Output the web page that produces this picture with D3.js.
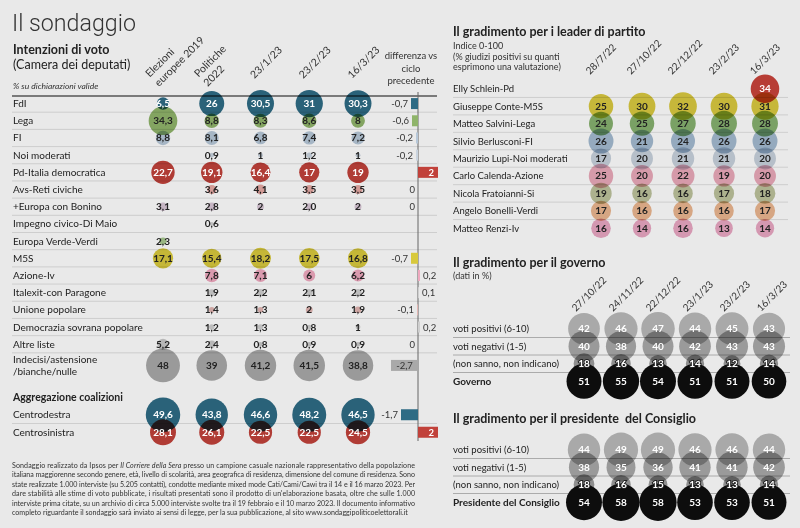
<!DOCTYPE html>
<html><head><meta charset="utf-8">
<script src="https://cdn.jsdelivr.net/npm/d3@7"></script>
<style>
html,body{margin:0;padding:0;background:#e9e9e9;}
svg{display:block;font-family:Lato,"Open Sans",sans-serif;}
.blend{mix-blend-mode:multiply;}
</style></head><body>
<svg id="c" width="800" height="528"></svg>
<script>
// ---------- DATA ----------
const parties = ["FdI","Lega","FI","Noi moderati","Pd-Italia democratica","Avs-Reti civiche","+Europa con Bonino","Impegno civico-Di Maio","Europa Verde-Verdi","M5S","Azione-Iv","Italexit-con Paragone","Unione popolare","Democrazia sovrana popolare","Altre liste","Indecisi/astensione\n/bianche/nulle"];
const partyColors = ["#2e6b84","#8fb46a","#b6c7d8","#c9d3de","#c1413a","#e6aaa4","#d8c6d6","#d0d0d0","#a9c98f","#d8c93c","#efa9bf","#cfcfcf","#e2b6b2","#cfcfcf","#c9c9c9","#a9a9a9"];
const partyTextWhite = [true,false,false,false,true,false,false,false,false,false,false,false,false,false,false,false];
const voteDates = ["Elezioni\neuropee 2019","Politiche\n2022","23/1/23","23/2/23","16/3/23"];
const votesEur2019 = [6.5,34.3,8.8,null,22.7,null,3.1,null,2.3,17.1,null,null,null,null,5.2,48];
const votesPol2022 = [26,8.8,8.1,0.9,19.1,3.6,2.8,0.6,null,15.4,7.8,1.9,1.4,1.2,2.4,39];
const votesJan23   = [30.5,8.3,6.8,1,16.4,4.1,2,null,null,18.2,7.1,2.2,1.3,1.3,0.8,41.2];
const votesFeb23   = [31,8.6,7.4,1.2,17,3.5,"2,0",null,null,17.5,6,2.1,2,0.8,0.9,41.5];
const votesMar23   = [30.3,8,7.2,1,19,3.5,2,null,null,16.8,6.2,2.2,1.9,1,0.9,38.8];
const diffPrev     = [-0.7,-0.6,-0.2,-0.2,2,0,0,null,null,-0.7,0.2,0.1,-0.1,0.2,0,-2.7];

const coalitions = ["Centrodestra","Centrosinistra"];
const coalColors = ["#2e6b84","#c1413a"];
const coalEur2019 = [49.6,28.1];
const coalPol2022 = [43.8,26.1];
const coalJan23   = [46.6,22.5];
const coalFeb23   = [48.2,22.5];
const coalMar23   = [46.5,24.5];
const coalDiff    = [-1.7,2];

const leaders = ["Elly Schlein-Pd","Giuseppe Conte-M5S","Matteo Salvini-Lega","Silvio Berlusconi-FI","Maurizio Lupi-Noi moderati","Carlo Calenda-Azione","Nicola Fratoianni-Si","Angelo Bonelli-Verdi","Matteo Renzi-Iv"];
const leaderColors = ["#c8433a","#d9c83f","#86b06e","#a3bad0","#c7d1dc","#eaa9b9","#bcc29c","#ebb68f","#e8a6c2"];
const leaderDates = ["28/7/22","27/10/22","22/12/22","23/2/23","16/3/23"];
const leader28Jul22 = [null,25,24,26,17,25,19,17,16];
const leader27Oct22 = [null,30,25,21,20,20,16,16,14];
const leader22Dec22 = [null,32,27,24,21,22,16,16,16];
const leader23Feb23 = [null,30,28,26,21,19,17,16,13];
const leader16Mar23 = [34,31,28,26,20,20,18,17,14];

const govDates = ["27/10/22","24/11/22","22/12/22","23/1/23","23/2/23","16/3/23"];
const govRows = ["voti positivi (6-10)","voti negativi (1-5)","(non sanno, non indicano)","Governo"];
const govPositive = [42,46,47,44,45,43];
const govNegative = [40,38,40,42,43,43];
const govUnknown  = [18,16,13,14,12,14];
const govIndex    = [51,55,54,51,51,50];
const pmRows = ["voti positivi (6-10)","voti negativi (1-5)","(non sanno, non indicano)","Presidente del Consiglio"];
const pmPositive = [44,49,49,46,46,44];
const pmNegative = [38,35,36,41,41,42];
const pmUnknown  = [18,16,15,13,13,14];
const pmIndex    = [54,58,58,53,53,51];

const footnote = [
 ["Sondaggio realizzato da Ipsos per ", "Il Corriere della Sera", " presso un campione casuale nazionale rappresentativo della popolazione"],
 ["italiana maggiorenne secondo genere, età, livello di scolarità, area geografica di residenza, dimensione del comune di residenza. Sono"],
 ["state realizzate 1.000 interviste (su 5.205 contatti), condotte mediante mixed mode Cati/Cami/Cawi tra il 14 e il 16 marzo 2023. Per"],
 ["dare stabilità alle stime di voto pubblicate, i risultati presentati sono il prodotto di un'elaborazione basata, oltre che sulle 1.000"],
 ["interviste prima citate, su un archivio di circa 5.000 interviste svolte tra il 19 febbraio e il 10 marzo 2023. Il documento informativo"],
 ["completo riguardante il sondaggio sarà inviato ai sensi di legge, per la sua pubblicazione, al sito www.sondaggipoliticoelettorali.it"]
];

// ---------- HELPERS ----------
const num = v => typeof v === "string" ? +v.replace(",", ".") : v;
const lab = v => typeof v === "string" ? v : String(Math.round(v*10)/10).replace(".", ",");
const svg = d3.select("#c");
const r = d3.scaleSqrt().domain([0,50]).range([0,17.3]);
const INK = "#222";

svg.append("rect").attr("width",800).attr("height",528).attr("fill","#e9e9e9");

// ---------- TITLES ----------
svg.append("text").attr("x",12).attr("y",31).attr("font-family","Roboto").attr("font-weight",300)
  .attr("font-size",23).attr("fill","#333").attr("textLength",124).attr("lengthAdjust","spacingAndGlyphs").text("Il sondaggio");
svg.append("text").attr("x",13).attr("y",54).attr("font-weight",700).attr("font-size",12.5).attr("fill",INK).text("Intenzioni di voto");
svg.append("text").attr("x",13).attr("y",69).attr("font-size",12.5).attr("fill",INK).text("(Camera dei deputati)");
svg.append("text").attr("x",13).attr("y",89).attr("font-size",8.5).attr("font-style","italic").attr("fill","#333").text("% su dichiarazioni valide");

["differenza vs","ciclo","precedente"].forEach((t,i)=>{
  svg.append("text").attr("x",411).attr("y",59+i*12.5).attr("text-anchor","middle").attr("font-size",9.5).attr("fill","#333").text(t);
});

// ---------- LEFT TABLE ----------
const xVote = d3.scalePoint().domain(voteDates).range([163,358]);
const yParty = d3.scaleBand().domain(parties).range([95,370]);
const rowH = yParty.bandwidth();
const cyP = p => yParty(p) + rowH/2 + (p.includes("\n") ? 4 : 0);
const xDiff = d3.scaleLinear().domain([-3,3]).range([388,448]);

// rotated header labels (start-aligned, lines stacked perpendicular)
function rotHeader(g, label, px, py, fs){
  const lines = label.split("\n");
  const grp = g.append("g").attr("transform",`translate(${px},${py}) rotate(-45)`);
  lines.forEach((l,i)=> grp.append("text").attr("font-size",fs).attr("fill","#333")
      .attr("x",0).attr("y",(i-(lines.length-1))*13).text(l));
}
voteDates.forEach(d=>{
  const two = d.includes("\n");
  rotHeader(svg,d,xVote(d)-(two?4:6),two?87:79,10.5);
});

// separators
const sep = svg.append("g");
parties.slice(0,15).forEach(p=>{
  sep.append("line").attr("x1",12).attr("x2",437).attr("y1",yParty(p)+rowH).attr("y2",yParty(p)+rowH)
    .attr("stroke","#c6c6c6").attr("stroke-width",0.8);
});
svg.append("line").attr("x1",12).attr("x2",437).attr("y1",96).attr("y2",96).attr("stroke","#555").attr("stroke-width",1.3);

// row labels
parties.forEach(p=>{
  const lines = p.split("\n");
  lines.forEach((l,i)=>{
    svg.append("text").attr("x",13).attr("y",cyP(p)+3.5+(i-(lines.length-1)/2)*12).attr("font-size",10)
      .attr("fill",INK).text(l);
  });
});

const voteSeries = [votesEur2019,votesPol2022,votesJan23,votesFeb23,votesMar23];
const cells = [];
parties.forEach((p,i)=>voteDates.forEach((d,j)=>{
  const v = voteSeries[j][i];
  if(v!==null) cells.push({x:xVote(d), y:cyP(p), v, c:partyColors[i], w:partyTextWhite[i]});
}));

// coalitions
const yCoal = d3.scaleBand().domain(coalitions).range([406,441]);
const cyC = c => yCoal(c)+yCoal.bandwidth()/2;
const coalSeries = [coalEur2019,coalPol2022,coalJan23,coalFeb23,coalMar23];
coalitions.forEach((c,i)=>voteDates.forEach((d,j)=>{
  cells.push({x:xVote(d), y:cyC(c), v:coalSeries[j][i], c:coalColors[i], w:true});
}));
svg.append("text").attr("x",13).attr("y",401).attr("font-weight",700).attr("font-size",10.5).attr("fill",INK).text("Aggregazione coalizioni");
coalitions.forEach(c=>svg.append("text").attr("x",13).attr("y",cyC(c)+3.5).attr("font-size",10).attr("fill",INK).text(c));
svg.append("line").attr("x1",12).attr("x2",437).attr("y1",yCoal("Centrosinistra")).attr("y2",yCoal("Centrosinistra"))
  .attr("stroke","#c6c6c6").attr("stroke-width",0.8);

const cg = svg.append("g");
cg.selectAll("circle").data(cells).join("circle").attr("class","blend")
  .attr("cx",d=>d.x).attr("cy",d=>d.y).attr("r",d=>r(num(d.v))).attr("fill",d=>d.c);
svg.append("g").selectAll("text").data(cells).join("text")
  .attr("x",d=>d.x).attr("y",d=>d.y+3.5).attr("text-anchor","middle").attr("font-size",10).attr("font-weight",700)
  .attr("fill",d=>d.w?"#fff":INK).text(d=>lab(d.v));

// diff column
svg.append("line").attr("x1",xDiff(0)).attr("x2",xDiff(0)).attr("y1",92).attr("y2",441).attr("stroke","#666").attr("stroke-width",1);
const diffs = [];
parties.forEach((p,i)=>{ if(diffPrev[i]!==null) diffs.push({v:diffPrev[i], y:cyP(p), c:partyColors[i], w:partyTextWhite[i]}); });
coalitions.forEach((c,i)=>diffs.push({v:coalDiff[i], y:cyC(c), c:coalColors[i], w:true}));
diffs.forEach(d=>{
  const x0 = xDiff(Math.min(0,d.v)), x1 = xDiff(Math.max(0,d.v));
  const w = x1-x0;
  if(w>0) svg.append("rect").attr("x",x0).attr("y",d.y-5.5).attr("width",w).attr("height",11).attr("fill",d.c);
  const t = svg.append("text").attr("y",d.y+3.5).attr("font-size",9.5).text(lab(d.v));
  if(w>=20){
    t.attr("x",d.v<0?(x0+x1)/2:x1-4).attr("text-anchor",d.v<0?"middle":"end").attr("fill",d.w?"#fff":"#333").attr("font-weight",d.w?700:400);
  } else if(d.v>0){
    t.attr("x",x1+3).attr("text-anchor","start").attr("fill","#333");
  } else {
    t.attr("x",x0-3).attr("text-anchor","end").attr("fill","#333");
  }
});

// ---------- LEADERS ----------
const RX = 453;
svg.append("text").attr("x",RX).attr("y",36).attr("font-weight",700).attr("font-size",12.5).attr("fill",INK).text("Il gradimento per i leader di partito");
["Indice 0-100","(% giudizi positivi su quanti","esprimono una valutazione)"].forEach((t,i)=>
  svg.append("text").attr("x",RX).attr("y",49+i*10.5).attr("font-size",9).attr("fill","#333").text(t));
const xLead = d3.scalePoint().domain(leaderDates).range([601,765]);
const yLead = d3.scaleBand().domain(leaders).range([80,237]);
const cyL = l => yLead(l)+yLead.bandwidth()/2;
leaderDates.forEach(d=>rotHeader(svg,d,xLead(d)-11,75,10));
leaders.slice(0,8).forEach(l=>svg.append("line").attr("x1",RX).attr("x2",788).attr("y1",yLead(l)+yLead.bandwidth()).attr("y2",yLead(l)+yLead.bandwidth())
  .attr("stroke","#c6c6c6").attr("stroke-width",0.8));
leaders.forEach(l=>svg.append("text").attr("x",RX).attr("y",cyL(l)+3.5).attr("font-size",9.5).attr("fill",INK).text(l));
const leadSeries = [leader28Jul22,leader27Oct22,leader22Dec22,leader23Feb23,leader16Mar23];
const lcells = [];
leaders.forEach((l,i)=>leaderDates.forEach((d,j)=>{
  const v = leadSeries[j][i];
  if(v!==null) lcells.push({x:xLead(d), y:cyL(l), v, c:leaderColors[i], w:i===0});
}));
svg.append("g").selectAll("circle").data(lcells).join("circle").attr("class","blend")
  .attr("cx",d=>d.x).attr("cy",d=>d.y).attr("r",d=>r(d.v)).attr("fill",d=>d.c);
svg.append("g").selectAll("text").data(lcells).join("text")
  .attr("x",d=>d.x).attr("y",d=>d.y+3.5).attr("text-anchor","middle").attr("font-size",10).attr("font-weight",700)
  .attr("fill",d=>d.w?"#fff":INK).text(d=>d.v);

// ---------- GOVERNO & PRESIDENTE ----------
const xGov = d3.scalePoint().domain(govDates).range([584,769]);
function ratingBlock(title, subtitle, titleY, rows, series, y0, showDates){
  svg.append("text").attr("x",RX).attr("y",titleY).attr("font-weight",700).attr("font-size",12.5).attr("fill",INK).text(title);
  if(subtitle) svg.append("text").attr("x",RX).attr("y",titleY+12).attr("font-size",9).attr("fill","#333").text(subtitle);
  if(showDates) govDates.forEach(d=>rotHeader(svg,d,xGov(d)-8,312,10));
  const yR = d3.scaleBand().domain(rows).range([y0, y0+rows.length*17.5]);
  const cy = k => yR(k)+yR.bandwidth()/2;
  rows.slice(0,3).forEach(k=>svg.append("line").attr("x1",RX).attr("x2",790).attr("y1",yR(k)+yR.bandwidth()).attr("y2",yR(k)+yR.bandwidth())
    .attr("stroke","#9a9a9a").attr("stroke-width",0.8));
  rows.forEach((k,i)=>svg.append("text").attr("x",RX).attr("y",cy(k)+3.5).attr("font-size",i===3?10:9.5)
    .attr("font-weight",i===3?700:400).attr("fill",INK).text(k));
  const fills = ["#b9b9b9","#a9a9a9","#9d9d9d","#0d0d0d"];
  const cellsG = [];
  rows.forEach((k,i)=>govDates.forEach((d,j)=>cellsG.push({x:xGov(d), y:cy(k), v:series[i][j], c:fills[i], i})));
  svg.append("g").selectAll("circle").data(cellsG).join("circle").attr("class",d=>d.i<3?"blend":null)
    .attr("cx",d=>d.x).attr("cy",d=>d.y).attr("r",d=>r(d.v)).attr("fill",d=>d.c);
  svg.append("g").selectAll("text").data(cellsG).join("text")
    .attr("x",d=>d.x).attr("y",d=>d.y+3.5).attr("text-anchor","middle").attr("font-size",10).attr("font-weight",700)
    .attr("fill","#fff").attr("stroke",d=>d.i===2?"#222":"none").attr("stroke-width",d=>d.i===2?2:0)
    .attr("paint-order","stroke").text(d=>d.v);
}
ratingBlock("Il gradimento per il governo","(dati in %)",267,govRows,[govPositive,govNegative,govUnknown,govIndex],320,true);
ratingBlock("Il gradimento per il presidente\u00a0 del Consiglio",null,423,pmRows,[pmPositive,pmNegative,pmUnknown,pmIndex],441,false);

// ---------- FOOTNOTE ----------
footnote.forEach((parts,i)=>{
  const t = svg.append("text").attr("x",12).attr("y",468+i*9.4).attr("font-size",7.1).attr("fill","#333");
  parts.forEach((s,k)=>t.append("tspan").attr("font-style",(parts.length===3&&k===1)?"italic":null).text(s));
  if(i<footnote.length-1) t.attr("textLength",403).attr("lengthAdjust","spacing");
});
</script></body></html>
